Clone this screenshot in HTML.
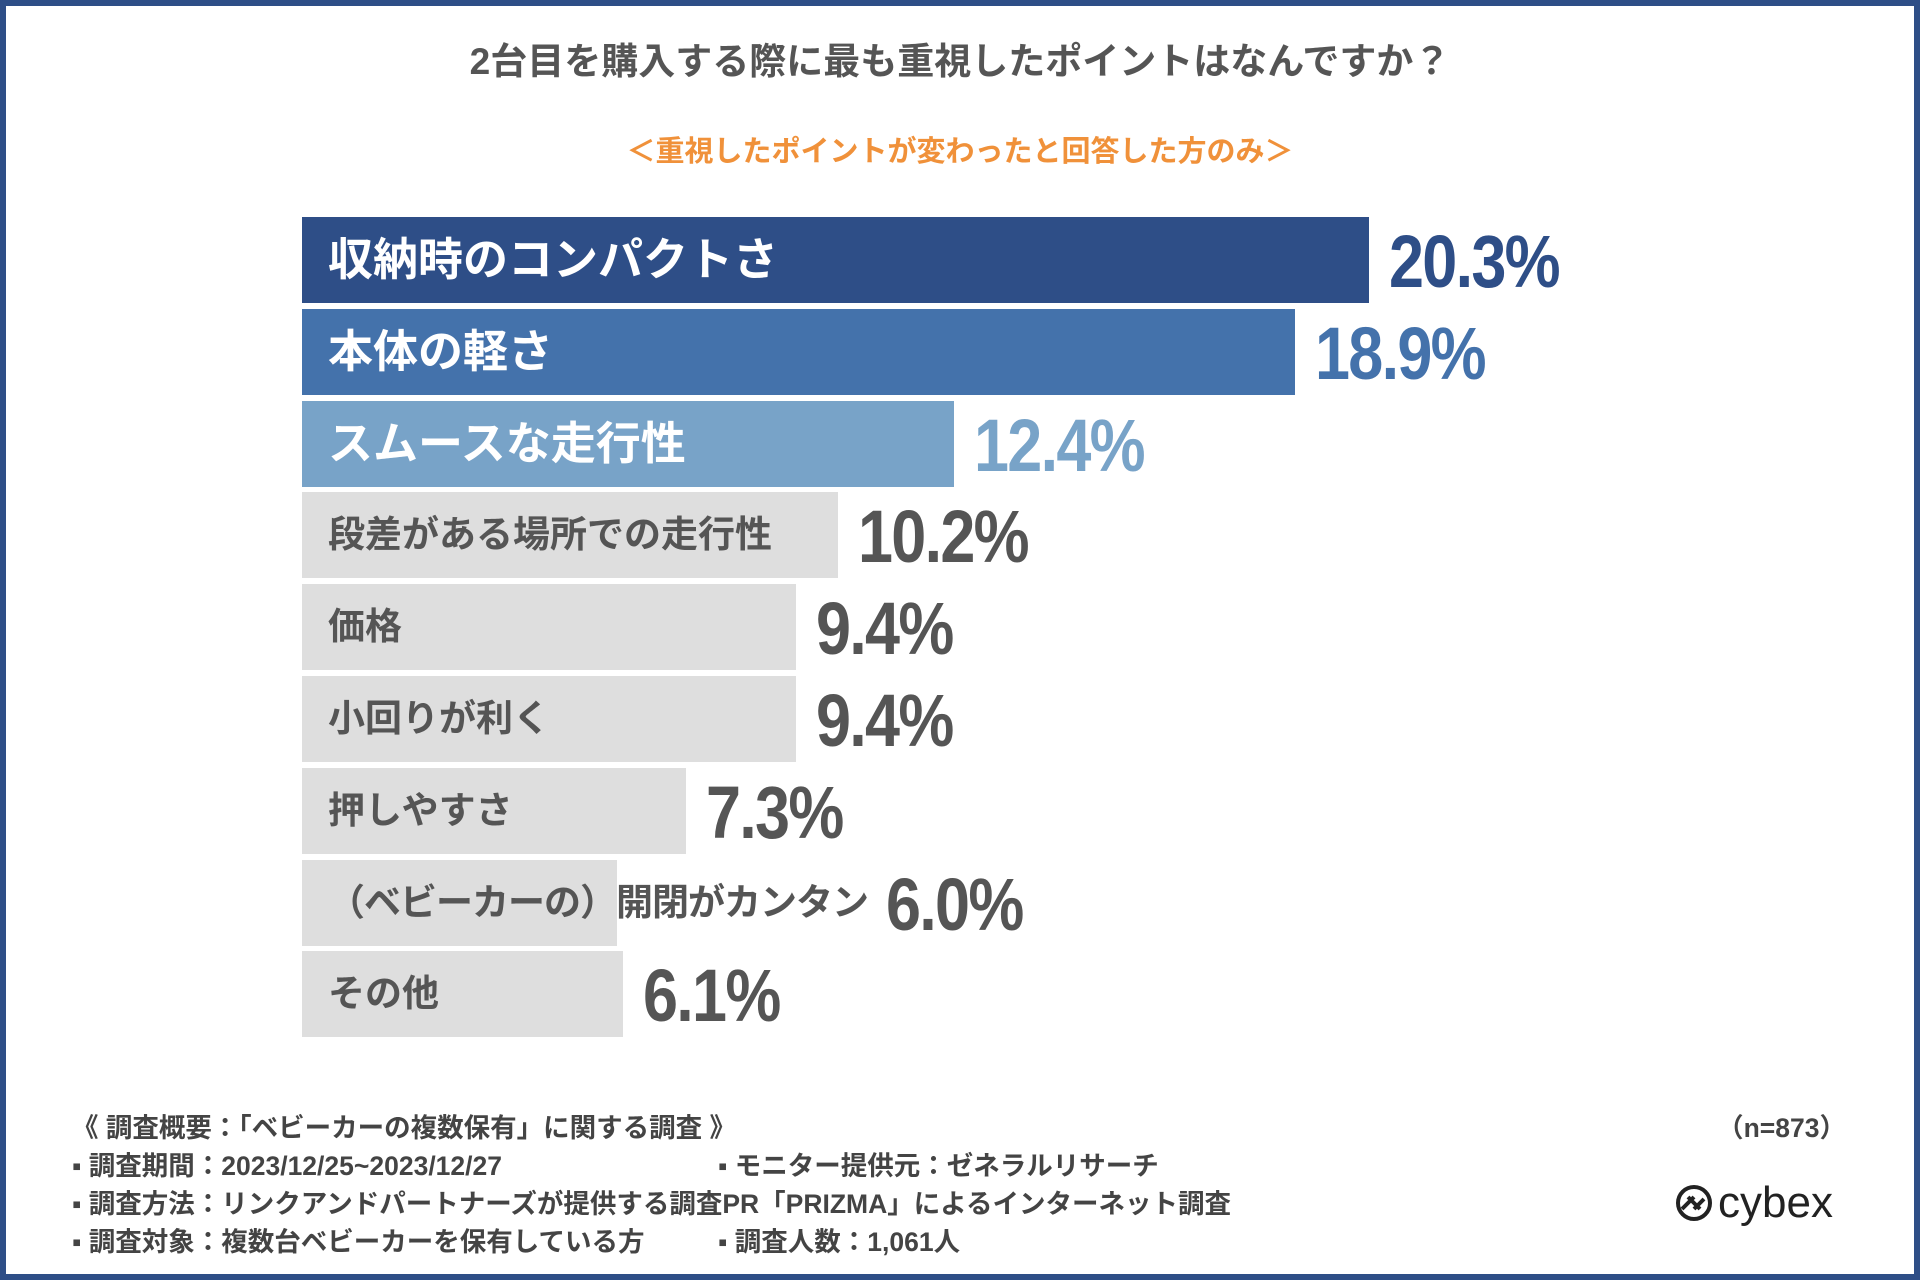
<!DOCTYPE html>
<html><head><meta charset="utf-8"><style>
body{margin:0;width:1920px;height:1280px;overflow:hidden;background:#fff;font-family:"Liberation Sans","Noto Sans CJK JP",sans-serif;}
#frame{position:absolute;left:0;top:0;width:1920px;height:1280px;box-sizing:border-box;border:6px solid #2e4e87;}
.t{position:absolute;white-space:nowrap;font-weight:bold;}
.bar{position:absolute;}
.lbl{position:absolute;white-space:nowrap;font-weight:bold;}
.val{position:absolute;white-space:nowrap;font-weight:bold;transform-origin:left center;transform:scaleX(0.85);letter-spacing:-2px;}
.f{position:absolute;white-space:nowrap;font-weight:bold;font-size:26.5px;color:#444;}
</style></head><body>
<div id="frame"></div>
<div class="t" style="left:0;width:1920px;text-align:center;top:31px;font-size:37px;color:#555;">2台目を購入する際に最も重視したポイントはなんですか？</div>
<div class="t" style="left:0;width:1920px;text-align:center;top:128px;font-size:29px;color:#f0913a;">＜重視したポイントが変わったと回答した方のみ＞</div>
<div id="chart"></div>
<div class="f" style="left:72px;top:1106px;">《 調査概要：「ベビーカーの複数保有」に関する調査 》</div>
<div class="f" style="right:74px;top:1106px;">（n=873）</div>
<div class="f" style="left:72px;top:1144px;">▪ 調査期間：2023/12/25~2023/12/27</div>
<div class="f" style="left:718px;top:1144px;">▪ モニター提供元：ゼネラルリサーチ</div>
<div class="f" style="left:72px;top:1182px;">▪ 調査方法：リンクアンドパートナーズが提供する調査PR「PRIZMA」によるインターネット調査</div>
<div class="f" style="left:72px;top:1220px;">▪ 調査対象：複数台ベビーカーを保有している方</div>
<div class="f" style="left:718px;top:1220px;">▪ 調査人数：1,061人</div>
<div style="position:absolute;left:1674px;top:1180px;height:46px;display:flex;align-items:center;">
<svg width="40" height="40" viewBox="0 0 40 40"><circle cx="20" cy="20" r="16" fill="none" stroke="#222" stroke-width="4"/><path d="M8 26 L20 14 M20 26 L30 16 M14 14 L26 26" stroke="#222" stroke-width="4" fill="none"/></svg>
<span style="font-size:44px;color:#222;margin-left:4px;font-family:'Liberation Sans',sans-serif;">cybex</span></div>
<script>
const categories=["収納時のコンパクトさ","本体の軽さ","スムースな走行性","段差がある場所での走行性","価格","小回りが利く","押しやすさ","（ベビーカーの）開閉がカンタン","その他"];
const values=[20.3,18.9,12.4,10.2,9.4,9.4,7.3,6.0,6.1];
const valueLabels=["20.3%","18.9%","12.4%","10.2%","9.4%","9.4%","7.3%","6.0%","6.1%"];
const barColors=["#2e4e87","#4472ab","#78a3c8"];
const textColors=["#2e4e87","#4472ab","#78a3c8"];
const x0=302,pxPer=52.56,y0=217,pitch=91.8,bh=86;
const xs=v=>v*pxPer;
const chart=document.getElementById('chart');
categories.forEach((c,i)=>{
  const y=y0+i*pitch,w=xs(values[i]);
  const b=document.createElement('div');b.className='bar';
  
  
  b.style.cssText=`left:${x0}px;top:${y}px;width:${w}px;height:${bh}px;background:${barColors[i]||'#dedede'}`;
  chart.appendChild(b);
  const l=document.createElement('div');l.className='lbl';
  
  
  const fs=i<3?45:37;
  l.style.cssText=`left:${x0+26}px;top:${y}px;height:${bh}px;line-height:${bh}px;font-size:${fs}px;color:${i<3?'#fff':'#555'};letter-spacing:${i===7?'-1px':'0'}`;
  l.textContent=c;chart.appendChild(l);
  const lblEnd=x0+26+l.offsetWidth;
  const vx=Math.max(x0+w+20,lblEnd+18);
  const v=document.createElement('div');v.className='val';
  
  
  v.style.cssText=`left:${vx}px;top:${y}px;height:${bh}px;line-height:${bh+4}px;font-size:74px;color:${textColors[i]||'#555'}`;
  v.textContent=valueLabels[i];chart.appendChild(v);
});
</script>
</body></html>
